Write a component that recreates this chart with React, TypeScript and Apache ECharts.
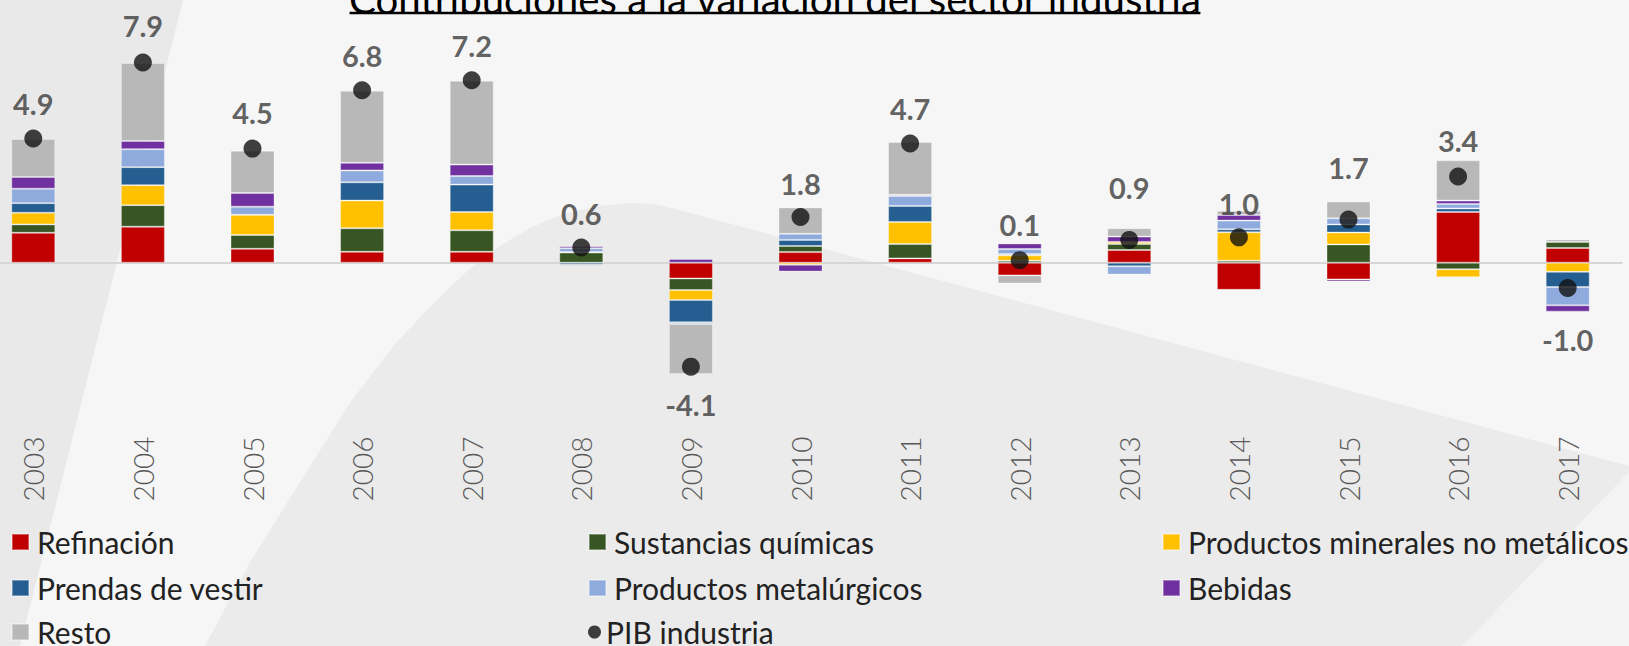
import React, { useEffect, useRef } from "react";
import * as echarts from "echarts";

const years = ["2003","2004","2005","2006","2007","2008","2009","2010","2011","2012","2013","2014","2015","2016","2017"];

const refinacion = [1.18, 1.42, 0.55, 0.43, 0.43, 0, -0.62, 0.42, 0.17, -0.5, 0.5, -1.07, -0.66, 2.0, 0.58];
const sustancias = [0.33, 0.85, 0.54, 0.93, 0.85, 0.4, -0.46, 0.24, 0.57, 0.08, 0.24, 0.08, 0.72, -0.26, 0.24];
const minerales = [0.46, 0.79, 0.8, 1.09, 0.72, 0.02, -0.39, -0.08, 0.87, 0.21, 0.08, 1.12, 0.47, -0.31, -0.36];
const prendas = [0.38, 0.71, 0, 0.72, 1.08, -0.08, -0.88, 0.24, 0.63, 0.05, -0.14, 0.12, 0.32, 0.14, -0.6];
const metalurgicos = [0.57, 0.71, 0.32, 0.47, 0.34, 0.15, -0.07, 0.24, 0.39, 0.2, -0.33, 0.34, 0.24, 0.18, -0.72];
const bebidas = [0.46, 0.32, 0.54, 0.3, 0.45, 0.08, 0.15, -0.27, 0.05, 0.22, 0.21, 0.22, -0.08, 0.13, -0.25];
const resto = [1.5, 3.08, 1.67, 2.84, 3.31, -0.06, -1.97, 1.04, 2.08, -0.32, 0.33, 0.17, 0.66, 1.59, 0.1];
const pib = [4.9, 7.9, 4.5, 6.8, 7.2, 0.6, -4.1, 1.8, 4.7, 0.1, 0.9, 1.0, 1.7, 3.4, -1.0];

const title = "Contribuciones a la variación del sector industria";

// label vertical shifts (style)
const labelShift = [-35, -37, -36, -35, -35, -34, 38, -34, -35, -36, -52, -34, -52, -36, 51];

const barSeries = [
  { name: "Refinación", data: refinacion, color: "#c00000" },
  { name: "Sustancias químicas", data: sustancias, color: "#375623" },
  { name: "Productos minerales no metálicos", data: minerales, color: "#ffc000" },
  { name: "Prendas de vestir", data: prendas, color: "#255e91" },
  { name: "Productos metalúrgicos", data: metalurgicos, color: "#8faadc" },
  { name: "Bebidas", data: bebidas, color: "#7030a0" },
  { name: "Resto", data: resto, color: "#b8b8b8" },
];
const pibName = "PIB industria";

const FONT = "Lato, 'Open Sans', sans-serif";

function inkWidth(text: string, font: string): number {
  const ctx = document.createElement("canvas").getContext("2d");
  if (!ctx) return 0;
  ctx.font = font;
  const m = ctx.measureText(text);
  const w = (m.actualBoundingBoxLeft || 0) + (m.actualBoundingBoxRight || 0);
  return w > 0 ? w : m.width;
}
function fit(text: string, weight: number, target: number, fallback: number): number {
  const w = inkWidth(text, `${weight} 100px Lato`);
  if (!w) return fallback;
  return (100 * target) / w;
}

export default function App() {
  const ref = useRef<HTMLDivElement>(null);
  useEffect(() => {
    if (!ref.current) return;
    const chart = echarts.init(ref.current, undefined, { renderer: "svg" });

    const titleSize = fit(title, 400, 850, 36);
    const titleW = inkWidth(title, `400 ${titleSize}px Lato`) || 850;
    const legendSize = fit("Productos minerales no metálicos", 400, 437, 27);
    const axisSize = fit("2003", 300, 62, 29);
    const labelSize = fit("4.9", 700, 39, 28);

    const titleCx = 775;

    const cells: [string, number, number][] = [
      ["Refinación", 0, 0],
      ["Sustancias químicas", 1, 0],
      ["Productos minerales no metálicos", 2, 0],
      ["Prendas de vestir", 0, 1],
      ["Productos metalúrgicos", 1, 1],
      ["Bebidas", 2, 1],
      ["Resto", 0, 2],
      [pibName, 1, 2],
    ];
    const colX = [11, 588, 1162];
    const rowY = [539, 585, 629];

    const legends = cells.map(([name, c, r]) => {
      const isPib = name === pibName;
      return {
        data: [{ name, icon: isPib ? "circle" : "rect" }],
        left: colX[c],
        top: rowY[r] - 12,
        padding: 0,
        itemWidth: isPib ? 13 : 17,
        itemHeight: isPib ? 13 : 16,
        selectedMode: false,
        textStyle: {
          fontFamily: FONT,
          fontSize: legendSize,
          color: "#222222",
          lineHeight: 24,
          padding: isPib ? [0, 0, 0, 0] : [0, 0, 0, 3],
        },
      };
    });

    const option: any = {
      animation: false,
      backgroundColor: "#f6f6f6",
      legend: legends,
      grid: {
        left: -21.5,
        right: 6.5,
        top: 262.7 - 10 * 25.35,
        height: 16.5 * 25.35,
        containLabel: false,
        outerBoundsMode: "none",
      },
      xAxis: {
        type: "category",
        data: years,
        axisLine: { show: false, onZero: false },
        axisTick: { show: false },
        axisLabel: {
          rotate: 90,
          margin: 9,
          fontFamily: FONT,
          fontWeight: 300,
          fontSize: axisSize,
          color: "#595959",
        },
      },
      yAxis: {
        type: "value",
        min: -6.5,
        max: 10,
        show: false,
        splitLine: { show: false },
      },
      series: [
        ...barSeries.map((s, i) => ({
          name: s.name,
          type: "bar",
          stack: "total",
          barWidth: 44,
          data: s.data,
          itemStyle: { color: s.color, borderColor: "rgba(255,255,255,0.35)", borderWidth: 1 },
          z: 2,
          ...(i === 0
            ? {
                markLine: {
                  silent: true,
                  symbol: "none",
                  label: { show: false },
                  lineStyle: { color: "#d6d6d6", width: 2, type: "solid" },
                  data: [{ yAxis: 0 }],
                  z: 1,
                },
              }
            : {}),
        })),
        {
          name: pibName,
          type: "scatter",
          symbol: "circle",
          symbolSize: 18,
          z: 5,
          itemStyle: { color: "#111111" },
          data: pib.map((v, i) => ({
            value: v,
            label: { offset: [0, labelShift[i]] },
          })),
          label: {
            show: true,
            position: "inside",
            formatter: (p: any) => Number(p.value).toFixed(1),
            fontFamily: FONT,
            fontWeight: 700,
            fontSize: labelSize,
            color: "#3a3a3a",
          },
        },
      ],
      graphic: [
        {
          type: "polygon",
          z: 0,
          silent: true,
          shape: { points: [[0, 0], [183, 0], [20, 646], [0, 646]] },
          style: { fill: "#e9e9e9" },
        },
        {
          type: "polygon",
          z: 0,
          silent: true,
          shape: {
            points: [
              [205, 646], [250, 562], [300, 482], [352, 400], [395, 344], [430, 307],
              [465, 273], [497, 248], [530, 228], [563, 214], [598, 206], [630, 203],
              [652, 204], [672, 208], [1629, 466], [1629, 646],
            ],
          },
          style: { fill: "#ebebeb" },
        },
        {
          type: "polygon",
          z: 0,
          silent: true,
          shape: { points: [[1462, 646], [1629, 472], [1629, 646]] },
          style: { fill: "#f3f3f3" },
        },
        {
          type: "text",
          z: 100,
          x: titleCx,
          y: -2,
          style: {
            text: title,
            fontFamily: FONT,
            fontSize: titleSize,
            fill: "#000000",
            align: "center",
            verticalAlign: "middle",
          },
        },
        {
          type: "line",
          z: 100,
          shape: { x1: titleCx - titleW / 2, y1: 13, x2: titleCx + titleW / 2, y2: 13 },
          style: { stroke: "#000000", lineWidth: 2.5 },
        },
      ],
    };
    chart.setOption(option);
    return () => chart.dispose();
  }, []);
  return (
    <div
      ref={ref}
      style={{ position: "fixed", left: 0, top: 0, width: 1629, height: 646 }}
    />
  );
}
